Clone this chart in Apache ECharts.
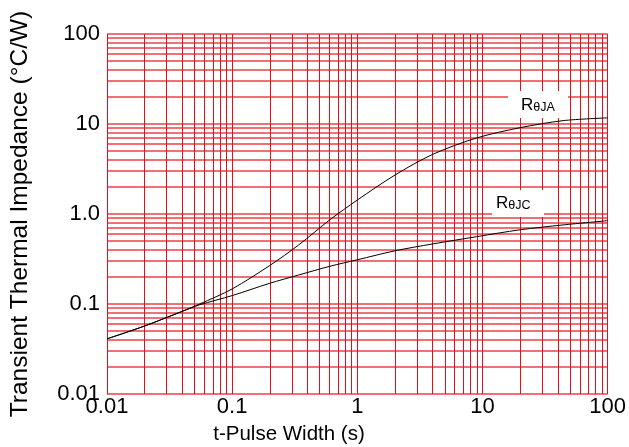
<!DOCTYPE html>
<html><head><meta charset="utf-8">
<script src="https://cdn.jsdelivr.net/npm/echarts@6/dist/echarts.min.js"></script>
<style>html,body{margin:0;padding:0;background:#fff}#c{width:629px;height:447px}</style>
</head><body><div id="c"></div>
<script>
const tPulse = [0.01, 0.02, 0.04, 0.055, 0.1, 0.2, 0.34, 0.6, 1, 2, 4, 9, 20, 44, 100];
const rJA = [0.041, 0.057, 0.083, 0.1, 0.147, 0.268, 0.453, 0.857, 1.43, 2.71, 4.6, 7.0, 9.1, 10.9, 11.7];
const rJC = [0.041, 0.057, 0.083, 0.098, 0.124, 0.17, 0.21, 0.262, 0.31, 0.39, 0.465, 0.56, 0.668, 0.756, 0.843];
const xTicks = {0.01: '0.01', 0.1: '0.1', 1: '1', 10: '10', 100: '100'};
const yTicks = {0.01: '0.01', 0.1: '0.1', 1: '1.0', 10: '10', 100: '100'};
const decades = [0.01, 0.1, 1, 10];
const mults = [1, 2, 3, 4, 5, 6, 7, 8, 9];

const gridVals = [];
decades.forEach(d => mults.forEach(m => gridVals.push(+(d * m).toPrecision(3))));
gridVals.push(100);

const FONT = '"Liberation Sans", Arial, sans-serif';
const chart = echarts.init(document.getElementById('c'), null, {renderer: 'canvas'});
const pair = (xs, ys) => xs.map((x, i) => [x, ys[i]]);
const richStyle = {
  a: {fontFamily: FONT, fontSize: 17, fill: '#000', lineHeight: 18, verticalAlign: 'bottom'},
  b: {fontFamily: FONT, fontSize: 12.5, fill: '#000', lineHeight: 14, verticalAlign: 'bottom'}
};

chart.setOption({
  animation: false,
  backgroundColor: '#fff',
  grid: {left: 107, right: 18, top: 34, bottom: 53},
  xAxis: {
    type: 'log', logBase: 10, min: 0.01, max: 100,
    axisLine: {show: false}, axisTick: {show: false}, splitLine: {show: false},
    axisLabel: {fontFamily: FONT, fontSize: 22, color: '#000', margin: 2,
      formatter: v => xTicks[+v.toPrecision(3)] || ''}
  },
  yAxis: {
    type: 'log', logBase: 10, min: 0.01, max: 100,
    axisLine: {show: false}, axisTick: {show: false}, splitLine: {show: false},
    axisLabel: {fontFamily: FONT, fontSize: 22, color: '#000', margin: 7,
      formatter: v => yTicks[+v.toPrecision(3)] || ''}
  },
  graphic: [
    {type: 'text', x: 289, y: 434, style: {text: 't-Pulse Width (s)', font: '20.5px ' + FONT, fill: '#000', align: 'center', verticalAlign: 'middle'}},
    {type: 'text', rotation: Math.PI / 2, x: 20, y: 214, style: {text: 'Transient Thermal Impedance (°C/W)', font: '24.5px ' + FONT, fill: '#000', align: 'center', verticalAlign: 'middle'}},
    {type: 'rect', shape: {x: 508, y: 91, width: 60, height: 27}, style: {fill: '#fff'}, z: 50},
    {type: 'text', x: 521, y: 105, z: 51, style: {rich: richStyle, text: '{a|R}{b|θJA}', verticalAlign: 'middle', fill: '#000'}},
    {type: 'rect', shape: {x: 492, y: 190, width: 52, height: 27}, style: {fill: '#fff'}, z: 50},
    {type: 'text', x: 496, y: 203, z: 51, style: {rich: richStyle, text: '{a|R}{b|θJC}', verticalAlign: 'middle', fill: '#000'}}
  ],
  series: [
    {
      name: 'gridV', type: 'line', data: [], silent: true, z: 1,
      markLine: {silent: true, symbol: 'none', label: {show: false}, animation: false,
        lineStyle: {color: '#e3101a', width: 1, type: 'solid'},
        data: gridVals.map(v => ({xAxis: v}))}
    },
    {
      name: 'gridH', type: 'line', data: [], silent: true, z: 1,
      markLine: {silent: true, symbol: 'none', label: {show: false}, animation: false,
        lineStyle: {color: 'rgba(232,16,26,0.6)', width: 2, type: 'solid'},
        data: gridVals.map(v => ({yAxis: v}))}
    },
    {name: 'RθJA', type: 'line', data: pair(tPulse, rJA), smooth: 0.3, showSymbol: false, z: 10,
      lineStyle: {color: '#000', width: 1}},
    {name: 'RθJC', type: 'line', data: pair(tPulse, rJC), smooth: 0.3, showSymbol: false, z: 10,
      lineStyle: {color: '#000', width: 1}}
  ]
});
</script></body></html>
